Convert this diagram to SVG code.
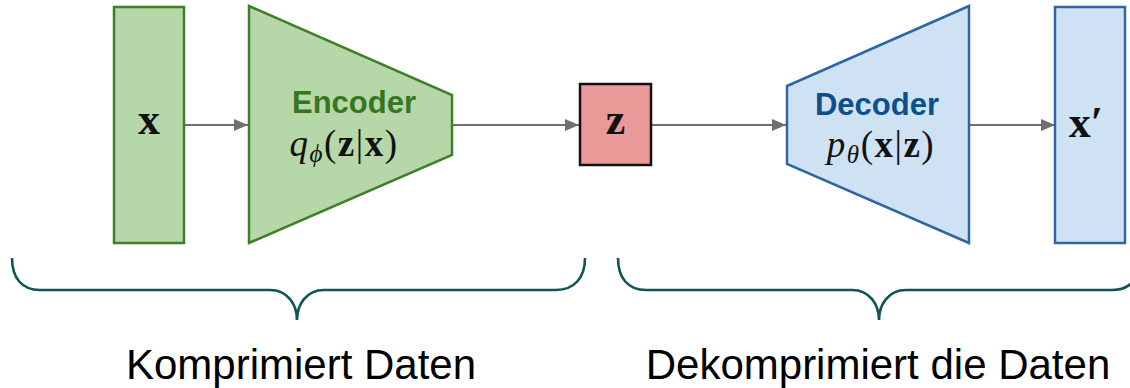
<svg xmlns="http://www.w3.org/2000/svg" width="1130" height="388" viewBox="0 0 1130 388">
<defs>
<style>
.g{fill:#b6d7a8;stroke:#3f7f26;stroke-width:2.5}
.b{fill:#cfe2f3;stroke:#2d66a3;stroke-width:2.5}
.r{fill:#ea9999;stroke:#111;stroke-width:2.5}
.a{stroke:#6f6f6f;stroke-width:2.2;fill:none}
.br{stroke:#0e5553;stroke-width:2.6;fill:none}
.m{font-family:"Liberation Serif","DejaVu Serif",serif;font-size:37px;fill:#111;letter-spacing:1.5px}
.v{font-family:"Liberation Serif","DejaVu Serif",serif;font-weight:bold;font-size:44px;fill:#111;text-anchor:middle}
.t{font-family:"Liberation Sans",Arial,sans-serif;font-weight:bold;font-size:31px;text-anchor:middle}
.c{font-family:"Liberation Sans",Arial,sans-serif;font-size:42px;fill:#000;text-anchor:middle}
</style>
<marker id="ah" markerWidth="14" markerHeight="12" refX="14" refY="6" orient="auto" markerUnits="userSpaceOnUse">
<path d="M0,0 L14,6 L0,12 Z" fill="#6f6f6f"/>
</marker>
</defs>
<g id="connectors">
<line class="a" x1="184" y1="125" x2="248" y2="125" marker-end="url(#ah)"/>
<line class="a" x1="452" y1="125" x2="579" y2="125" marker-end="url(#ah)"/>
<line class="a" x1="651" y1="125" x2="786" y2="125" marker-end="url(#ah)"/>
<line class="a" x1="969" y1="125" x2="1055" y2="125" marker-end="url(#ah)"/>
</g>
<g id="x">
<rect class="g" x="114" y="7" width="70" height="236"/>
<text class="v" x="149" y="134">x</text>
</g>
<g id="encoder">
<polygon class="g" points="249,6 452,95 452,155 249,243"/>
<text class="t" x="354" y="113" fill="#38761d">Encoder</text>
<text class="m" x="344" y="156" text-anchor="middle"><tspan font-style="italic">q</tspan><tspan font-style="italic" font-size="25" dy="6">ϕ</tspan><tspan dy="-6">(</tspan><tspan font-weight="bold">z</tspan>|<tspan font-weight="bold">x</tspan>)</text>
</g>
<g id="z">
<rect class="r" x="580" y="84" width="71" height="81"/>
<text class="v" x="615.500" y="134">z</text>
</g>
<g id="decoder">
<polygon class="b" points="787,86 969,6 969,243 787,164"/>
<text class="t" x="877" y="115" fill="#0b4f8c">Decoder</text>
<text class="m" x="881" y="157" text-anchor="middle"><tspan font-style="italic">p</tspan><tspan font-style="italic" font-size="25" dy="6">θ</tspan><tspan dy="-6">(</tspan><tspan font-weight="bold">x</tspan>|<tspan font-weight="bold">z</tspan>)</text>
</g>
<g id="xprime">
<rect class="b" x="1055" y="7" width="70" height="236"/>
<text class="v" x="1086" y="137">x′</text>
</g>
<g id="brace-encode">
<path class="br" d="M12,258 C12,278 22,290 40,290 L270,290 C288,290 297,305 297,320 C297,305 306,290 324,290 L556,290 C574,290 585,278 585,258"/>
<text class="c" x="301" y="379">Komprimiert Daten</text>
</g>
<g id="brace-decode">
<path class="br" d="M618,258 C618,278 628,290 646,290 L852,290 C870,290 879,305 879,320 C879,305 888,290 906,290 L1112,290 C1130,290 1141,278 1141,258"/>
<text class="c" x="878" y="379">Dekomprimiert die Daten</text>
</g>
</svg>
